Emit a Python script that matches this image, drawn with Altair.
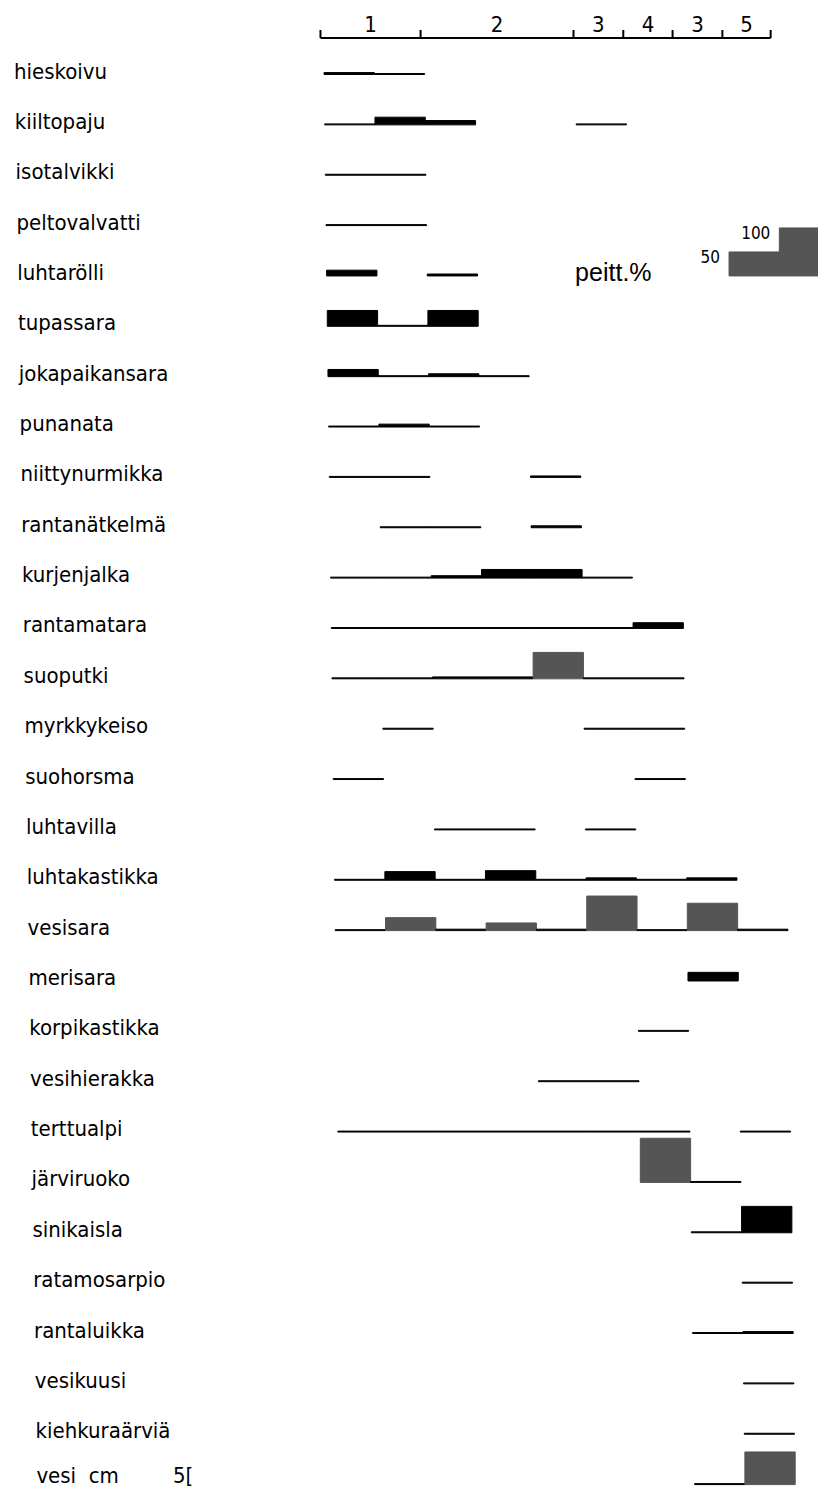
import altair as alt
import pandas as pd

# ---------------- data ----------------
species = [
    "hieskoivu", "kiiltopaju", "isotalvikki", "peltovalvatti", "luhtarölli",
    "tupassara", "jokapaikansara", "punanata", "niittynurmikka", "rantanätkelmä",
    "kurjenjalka", "rantamatara", "suoputki", "myrkkykeiso", "suohorsma",
    "luhtavilla", "luhtakastikka", "vesisara", "merisara", "korpikastikka",
    "vesihierakka", "terttualpi", "järviruoko", "sinikaisla", "ratamosarpio",
    "rantaluikka", "vesikuusi", "kiehkuraärviä", "vesi cm",
]

# cover % in the nine sample plots along the transect (0 = absent)
cover_pct = [
    [4, 2, 0, 0, 0, 0, 0, 0, 0],      # hieskoivu
    [2, 16, 9, 0, 0, 2, 0, 0, 0],     # kiiltopaju
    [2, 2, 0, 0, 0, 0, 0, 0, 0],      # isotalvikki
    [2, 2, 0, 0, 0, 0, 0, 0, 0],      # peltovalvatti
    [12, 0, 4, 0, 0, 0, 0, 0, 0],     # luhtarölli
    [33, 2, 33, 0, 0, 0, 0, 0, 0],    # tupassara
    [15, 2, 6, 2, 0, 0, 0, 0, 0],     # jokapaikansara
    [2, 6, 2, 0, 0, 0, 0, 0, 0],      # punanata
    [2, 2, 0, 0, 3, 0, 0, 0, 0],      # niittynurmikka
    [0, 2, 2, 0, 4, 0, 0, 0, 0],      # rantanätkelmä
    [2, 2, 5, 18, 18, 2, 0, 0, 0],    # kurjenjalka
    [2, 2, 2, 2, 2, 2, 12, 0, 0],     # rantamatara
    [2, 2, 4, 4, 55, 2, 2, 0, 0],     # suoputki
    [0, 2, 0, 0, 0, 2, 2, 0, 0],      # myrkkykeiso
    [2, 0, 0, 0, 0, 0, 2, 0, 0],      # suohorsma
    [0, 0, 2, 2, 0, 2, 0, 0, 0],      # luhtavilla
    [2, 18, 2, 20, 2, 5, 2, 5, 0],    # luhtakastikka
    [2, 27, 3, 16, 3, 72, 2, 57, 3],  # vesisara
    [0, 0, 0, 0, 0, 0, 0, 18, 0],     # merisara
    [0, 0, 0, 0, 0, 0, 2, 0, 0],      # korpikastikka
    [0, 0, 0, 0, 2, 2, 0, 0, 0],      # vesihierakka
    [2, 2, 2, 2, 2, 2, 2, 0, 2],      # terttualpi
    [0, 0, 0, 0, 0, 0, 92, 2, 0],     # järviruoko
    [0, 0, 0, 0, 0, 0, 0, 2, 55],     # sinikaisla
    [0, 0, 0, 0, 0, 0, 0, 0, 2],      # ratamosarpio
    [0, 0, 0, 0, 0, 0, 0, 2, 4],      # rantaluikka
    [0, 0, 0, 0, 0, 0, 0, 0, 2],      # vesikuusi
    [0, 0, 0, 0, 0, 0, 0, 0, 2],      # kiehkuraärviä
    [0, 0, 0, 0, 0, 0, 0, 2, 68],     # vesi cm
]

stippled_species = ["suoputki", "vesisara", "järviruoko", "vesi cm"]

zone_labels = ["1", "2", "3", "4", "3", "5"]
zone_bounds = [-0.07, 1.92, 4.96, 5.95, 6.93, 7.92, 8.88]

legend_values = [50, 100]
legend_title = "peitt.%"
depth_note = "5["

# ---------------- layout ----------------
PLOT_W, PLOT_H = 810, 1481
X_UNIT = 50.3          # px per sample plot
ROW = 50.36            # px per species row
X_ORIGIN = 324 - 8     # px of plot 0 left edge (first row) in chart
Y_ORIGIN = 74.5 - 8    # px of first baseline in chart
K = 48.0 / ROW / 100.0 # row units per % cover
SHEAR = 0.66 / X_UNIT  # hand drawing drifts right slightly down the page
LABEL_X0 = (14 - 324) / X_UNIT
LABEL_SHEAR = 0.8 / X_UNIT

x_dom = [-X_ORIGIN / X_UNIT, (PLOT_W - X_ORIGIN) / X_UNIT]
y_dom = [-Y_ORIGIN / ROW, (PLOT_H - Y_ORIGIN) / ROW]
xs = alt.Scale(domain=x_dom, nice=False, zero=False)
ys = alt.Scale(domain=y_dom, nice=False, zero=False, reverse=True)

FONT = "Liberation Sans Narrow, Arial Narrow, DejaVu Sans Condensed, sans-serif"

# ---------------- tables ----------------
bars = []
for i, sp in enumerate(species):
    for p, c in enumerate(cover_pct[i]):
        if c > 0:
            bars.append(dict(
                species=sp, row=i,
                x0=p + SHEAR * i, x1=p + 1 + SHEAR * i,
                top=i - c * K, base=i,
                shade="gray" if (sp in stippled_species and c >= 10) else "black",
            ))
bars_df = pd.DataFrame(bars)

labels_df = pd.DataFrame({
    "species": species,
    "row": list(range(len(species))),
})
labels_df["lx"] = LABEL_X0 + LABEL_SHEAR * labels_df["row"]
labels_df["text"] = labels_df["species"].str.replace(" ", "\u00a0\u00a0")
last = len(species) - 1
main_labels = labels_df[labels_df["row"] < last]
bottom_labels = pd.concat([
    labels_df[labels_df["row"] == last][["lx", "row", "text"]],
    pd.DataFrame({"lx": [-3.37 + SHEAR * last], "row": [last], "text": [depth_note]}),
])

color_scale = alt.Scale(domain=["black", "gray"], range=["#000000", "#555555"])

bar_layer = alt.Chart(bars_df).mark_rect(strokeWidth=1).encode(
    x=alt.X("x0:Q", scale=xs, axis=None),
    x2="x1:Q",
    y=alt.Y("top:Q", scale=ys, axis=None),
    y2="base:Q",
    color=alt.Color("shade:N", scale=color_scale, legend=None),
    stroke=alt.Stroke("shade:N", scale=color_scale, legend=None),
)

label_layer = alt.Chart(main_labels).mark_text(
    align="left", baseline="middle", font=FONT, fontSize=22, dy=-3, color="black"
).encode(
    x=alt.X("lx:Q", scale=xs, axis=None),
    y=alt.Y("row:Q", scale=ys, axis=None),
    text="text:N",
)

# last row sits at the bottom edge: anchor its texts by their bottom
bottom_layer = alt.Chart(bottom_labels).mark_text(
    align="left", baseline="bottom", font=FONT, fontSize=22, dy=3, color="black"
).encode(
    x=alt.X("lx:Q", scale=xs, axis=None),
    y=alt.Y("row:Q", scale=ys, axis=None),
    text="text:N",
)

# top zone axis
AXIS_ROW = (38 - 74.5) / ROW
TICK_ROW = (30 - 74.5) / ROW
ZLAB_ROW = (25 - 74.5) / ROW
axis_line_df = pd.DataFrame({"a": [zone_bounds[0]], "b": [zone_bounds[-1]], "y": [AXIS_ROW]})
axis_line = alt.Chart(axis_line_df).mark_rule(strokeWidth=2, color="black").encode(
    x=alt.X("a:Q", scale=xs), x2="b:Q", y=alt.Y("y:Q", scale=ys)
)
ticks_df = pd.DataFrame({"x": zone_bounds, "y": [AXIS_ROW] * len(zone_bounds),
                         "y2": [TICK_ROW] * len(zone_bounds)})
ticks = alt.Chart(ticks_df).mark_rule(strokeWidth=2, color="black").encode(
    x=alt.X("x:Q", scale=xs), y=alt.Y("y:Q", scale=ys), y2="y2:Q"
)
zl_df = pd.DataFrame({
    "x": [(zone_bounds[j] + zone_bounds[j + 1]) / 2 for j in range(len(zone_labels))],
    "y": [ZLAB_ROW] * len(zone_labels),
    "t": zone_labels,
})
zone_text = alt.Chart(zl_df).mark_text(
    align="center", baseline="middle", font=FONT, fontSize=22, color="black"
).encode(x=alt.X("x:Q", scale=xs), y=alt.Y("y:Q", scale=ys), text="t:N")

# cover legend (step blocks 50 / 100)
LEG_ROW = 4
leg_df = pd.DataFrame({
    "v": legend_values,
    "x0": [8 + SHEAR * LEG_ROW, 9 + SHEAR * LEG_ROW],
    "x1": [9 + SHEAR * LEG_ROW, 10 + SHEAR * LEG_ROW],
    "base": [LEG_ROW, LEG_ROW],
})
leg_df["top"] = LEG_ROW - leg_df["v"] * K
leg_df["ty"] = leg_df["top"] + 0.12
leg_df["t"] = leg_df["v"].astype(str)
leg_blocks = alt.Chart(leg_df).mark_rect(color="#555555", stroke="#555555", strokeWidth=1).encode(
    x=alt.X("x0:Q", scale=xs), x2="x1:Q", y=alt.Y("top:Q", scale=ys), y2="base:Q"
)
leg_text = alt.Chart(leg_df).mark_text(
    align="right", baseline="middle", font=FONT, fontSize=17, dx=-9, color="black"
).encode(x=alt.X("x0:Q", scale=xs), y=alt.Y("ty:Q", scale=ys), text="t:N")
lt_df = pd.DataFrame({"x": [4.94 + SHEAR * LEG_ROW], "y": [LEG_ROW - 0.06], "t": [legend_title]})
leg_title = alt.Chart(lt_df).mark_text(
    align="left", baseline="middle", font="Liberation Sans, Arial, sans-serif",
    fontSize=25, color="black"
).encode(x=alt.X("x:Q", scale=xs), y=alt.Y("y:Q", scale=ys), text="t:N")

chart = alt.layer(
    bar_layer, label_layer, bottom_layer, axis_line, ticks, zone_text,
    leg_blocks, leg_text, leg_title,
).properties(
    width=PLOT_W, height=PLOT_H,
    autosize=alt.AutoSizeParams(type="none"),
    padding=0,
).configure(background="white").configure_view(strokeWidth=0, stroke="white")

chart.save("out.html", embed_options={"renderer": "svg", "actions": False})
